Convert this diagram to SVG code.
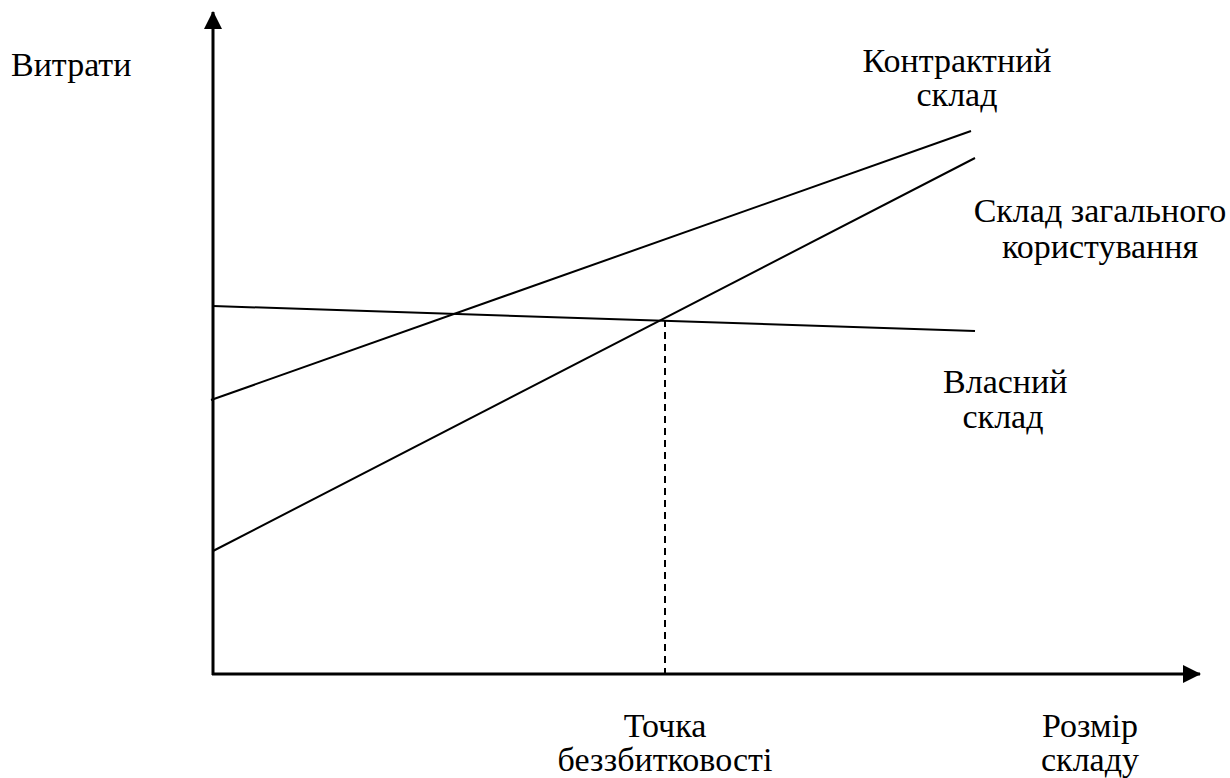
<svg xmlns="http://www.w3.org/2000/svg" width="1230" height="778" viewBox="0 0 1230 778">
<style>
text{font-family:"Liberation Serif","Times New Roman",serif;font-size:34px;fill:#000}
.ln{stroke:#000;stroke-width:2;fill:none}
.ax{stroke:#000;stroke-width:3;fill:none}
</style>
<defs>
<marker id="ah" markerUnits="userSpaceOnUse" markerWidth="18" markerHeight="18" refX="17" refY="9" orient="auto" viewBox="0 0 18 18">
<path d="M0,0 L18,9 L0,18 Z" fill="#000"/>
</marker>
</defs>
<rect width="1230" height="778" fill="#fff"/>
<g id="connectors">
<line id="y-axis" class="ax" x1="213" y1="675" x2="213" y2="12" marker-end="url(#ah)"/>
<line id="x-axis" class="ax" x1="212" y1="674" x2="1200" y2="674" marker-end="url(#ah)"/>
<line id="own" class="ln" x1="213" y1="306" x2="975" y2="331"/>
<line id="contract" class="ln" x1="211" y1="400" x2="971" y2="131"/>
<line id="public" class="ln" x1="213" y1="551" x2="975" y2="158"/>
<line id="breakeven" class="ln" x1="665" y1="320" x2="665" y2="673" stroke-dasharray="7,5"/>
</g>
<g id="label-costs"><text x="11" y="76">Витрати</text></g>
<g id="label-contract"><text x="957" y="72" text-anchor="middle">Контрактний</text><text x="957" y="106" text-anchor="middle">склад</text></g>
<g id="label-public"><text x="1100" y="222" text-anchor="middle">Склад загального</text><text x="1100" y="258" text-anchor="middle">користування</text></g>
<g id="label-own"><text x="943" y="393">Власний</text><text x="1003" y="428" text-anchor="middle">склад</text></g>
<g id="label-breakeven"><text x="665" y="737" text-anchor="middle">Точка</text><text x="665" y="771" text-anchor="middle">беззбитковості</text></g>
<g id="label-size"><text x="1090" y="737" text-anchor="middle">Розмір</text><text x="1090" y="771" text-anchor="middle">складу</text></g>
</svg>
